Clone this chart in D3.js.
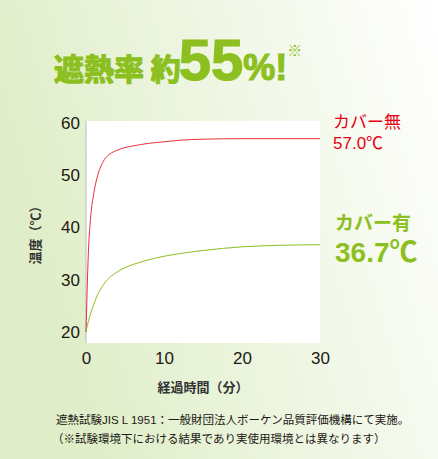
<!DOCTYPE html>
<html><head><meta charset="utf-8">
<script src="https://cdn.jsdelivr.net/npm/d3@7"></script>
<style>body{margin:0}</style></head>
<body><svg id="sg1"></svg>
<script>
const minutes = [0, 0.3, 0.6, 1, 1.5, 2, 2.5, 3, 4, 5, 6, 8, 10, 12, 15, 20, 25, 30];
const noCover = [20, 35, 42, 46.5, 50, 52, 53.3, 54, 54.8, 55.3, 55.6, 56.1, 56.4, 56.7, 56.9, 57.0, 57.0, 57.0];
const withCover = [20, 22, 23.6, 25.3, 27.2, 28.5, 29.6, 30.4, 31.5, 32.3, 32.9, 33.8, 34.5, 35.0, 35.6, 36.3, 36.6, 36.7];
const xTicks = [0, 10, 20, 30];
const yTicks = [20, 30, 40, 50, 60];

const W = 438, H = 459;
const svg = d3.select("#sg1").attr("width", W).attr("height", H)
  .style("display", "block").style("font-family", "Liberation Sans, Noto Sans CJK JP, sans-serif");

//BACKGROUND
const grad = svg.append("defs").append("linearGradient").attr("id", "bg")
  .attr("x1", 0).attr("y1", 0.3).attr("x2", 1).attr("y2", 0);
grad.append("stop").attr("offset", 0).attr("stop-color", "#dfeec8");
grad.append("stop").attr("offset", 1).attr("stop-color", "#ffffff");
svg.append("rect").attr("width", W).attr("height", H).attr("fill", "url(#bg)");

//TITLE
const title = svg.append("text").attr("x", 54).attr("y", 80)
  .attr("fill", "#8cc021").style("font-weight", "bold")
  .attr("stroke", "#8cc021").attr("stroke-width", 1.2);
title.append("tspan").style("font-size", "30px").style("font-family", "Noto Sans CJK JP").text("遮熱率 約");
title.append("tspan").style("font-size", "58px").attr("dx", -2).text("55");
title.append("tspan").style("font-size", "36px").text("%!");
title.append("tspan").style("font-size", "15px").attr("stroke-width", 0).attr("dy", -24).text("※");

//SCALES
const x = d3.scaleLinear().domain([0, 30]).range([86, 320]);
const y = d3.scaleLinear().domain([20, 60]).range([332, 123]);
svg.append("rect").attr("x", 86).attr("y", 121).attr("width", 234).attr("height", 222).attr("fill", "#fff");

//AXES
svg.append("g").attr("transform", "translate(0,343)")
  .call(d3.axisBottom(x).tickValues(xTicks).tickSize(0).tickPadding(9))
  .call(g => g.select(".domain").remove())
  .selectAll("text").style("font-size", "17px").attr("fill", "#231815").style("font-family", "Liberation Sans");
svg.append("g").attr("transform", "translate(86,0)")
  .call(d3.axisLeft(y).tickValues(yTicks).tickSize(0).tickPadding(6))
  .call(g => g.select(".domain").remove())
  .selectAll("text").style("font-size", "17px").attr("fill", "#231815").style("font-family", "Liberation Sans");
svg.append("line").attr("x1", 86).attr("x2", 86).attr("y1", 121).attr("y2", 343).attr("stroke", "#bbb");

svg.append("text").attr("x", 203).attr("y", 392).attr("text-anchor", "middle")
  .style("font-size", "13px").style("font-weight", "bold").attr("fill", "#333").text("経過時間（分）");
svg.append("text").attr("transform", "translate(40,232) rotate(-90)").attr("text-anchor", "middle")
  .style("font-size", "13px").style("font-weight", "bold").attr("fill", "#333").text("温度（℃）");

//LINES
const line = vals => d3.line().curve(d3.curveMonotoneX)
  .x((d, i) => x(minutes[i])).y(d => y(d))(vals);
svg.append("path").attr("d", line(noCover)).attr("fill", "none").attr("stroke", "#e8303d").attr("stroke-width", 1);
svg.append("path").attr("d", line(withCover)).attr("fill", "none").attr("stroke", "#8cc021").attr("stroke-width", 1);

//LABELS
svg.append("text").attr("x", 333).attr("y", 128).attr("fill", "#e60012").style("font-size", "17px").text("カバー無");
svg.append("text").attr("x", 333).attr("y", 149).attr("fill", "#e60012").style("font-size", "17px").text("57.0℃");
svg.append("text").attr("x", 335).attr("y", 230).attr("fill", "#8cc021").style("font-size", "19px").style("font-weight", "bold").text("カバー有");
svg.append("text").attr("x", 335).attr("y", 262).attr("fill", "#8cc021").style("font-size", "28px").style("font-weight", "bold").text("36.7℃");

//NOTE
svg.append("text").attr("x", 56).attr("y", 424).style("font-size", "11.5px").attr("fill", "#231815")
  .text("遮熱試験JIS L 1951：一般財団法人ボーケン品質評価機構にて実施。");
svg.append("text").attr("x", 52).attr("y", 443).style("font-size", "11.5px").attr("fill", "#231815")
  .text("（※試験環境下における結果であり実使用環境とは異なります）");
</script></body></html>
